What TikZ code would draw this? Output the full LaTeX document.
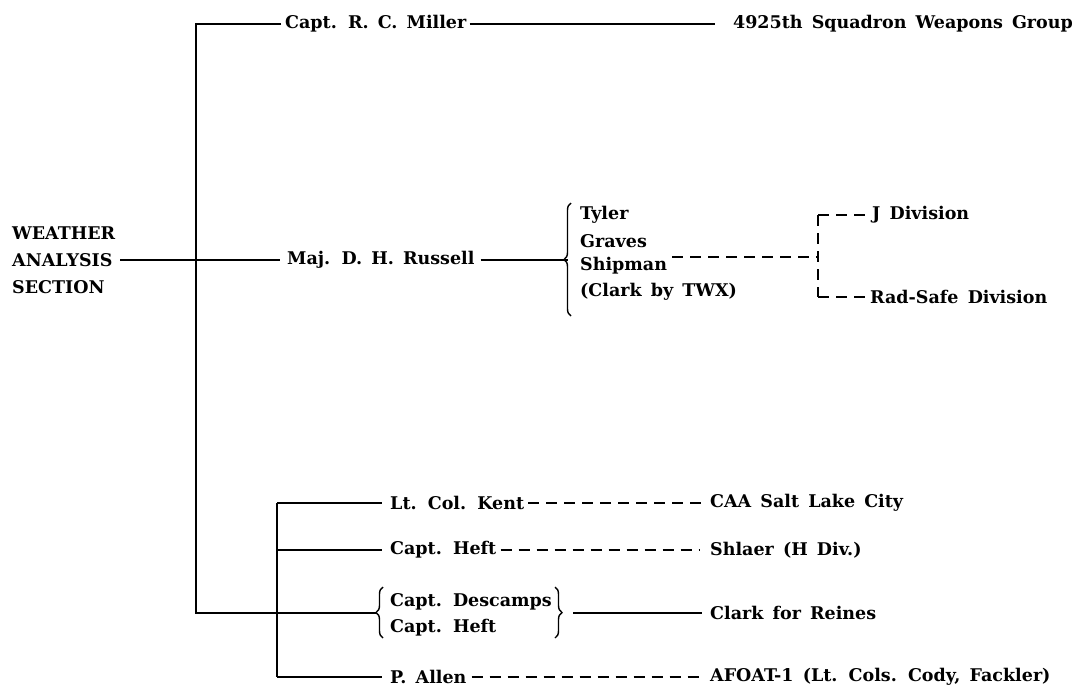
\documentclass[tikz,border=0pt]{standalone}
\usepackage{fontspec}
\setmainfont{DejaVu Serif}[WordSpace=1.5]
\usetikzlibrary{decorations.pathreplacing}
\begin{document}
\begin{tikzpicture}[x=1pt,y=-1pt,
  lbl/.style={anchor=west, inner sep=0pt, font=\bfseries\fontsize{17.5}{27}\selectfont},
  ln/.style={line width=1.8pt},
  dsh/.style={line width=1.8pt, dash pattern=on 11pt off 7pt},
  brc/.style={line width=1.4pt, decorate, decoration={brace, amplitude=7pt, aspect=0.5}}]
\useasboundingbox (0,0) rectangle (1080,686);
% nodes
\node[lbl, align=left] (was) at (12,260) {WEATHER\\ANALYSIS\\SECTION};
\node[lbl] (miller) at (285,24) {Capt. R. C. Miller};
\node[lbl, anchor=east] (sqn) at (1073,24) {4925th Squadron Weapons Group};
\node[lbl] (russell) at (287,260) {Maj. D. H. Russell};
\node[lbl] (tyler) at (580,215) {Tyler};
\node[lbl] (graves) at (580,241) {Graves};
\node[lbl] (shipman) at (580,266) {Shipman};
\node[lbl] (clarktwx) at (580,292) {(Clark by TWX)};
\node[lbl] (jdiv) at (872,215) {J Division};
\node[lbl] (rad) at (870,297) {Rad-Safe Division};
\node[lbl] (kent) at (390,503) {Lt. Col. Kent};
\node[lbl] (caa) at (710,503) {CAA Salt Lake City};
\node[lbl] (heft) at (390,550) {Capt. Heft};
\node[lbl] (shlaer) at (710,550) {Shlaer (H Div.)};
\node[lbl] (descamps) at (390,602) {Capt. Descamps};
\node[lbl] (hefttwo) at (390,628) {Capt. Heft};
\node[lbl] (reines) at (710,613) {Clark for Reines};
\node[lbl] (allen) at (390,677) {P. Allen};
\node[lbl] (afoat) at (710,677) {AFOAT-1 (Lt. Cols. Cody, Fackler)};
% coordinates
\coordinate (ttop) at (196,24);
\coordinate (tbot) at (196,613);
\coordinate (rbrace) at (568,260);
\coordinate (gstart) at (672,257);
\coordinate (dj) at (818,257);
\coordinate (djtop) at (818,215);
\coordinate (djbot) at (818,297);
\coordinate (sbtop) at (277,503);
\coordinate (sbheft) at (277,550);
\coordinate (sbbot) at (277,677);
\coordinate (dbrace) at (376,613);
\coordinate (rbr) at (573,613);
% trunk
\draw[ln] (miller.west) ++(-4,0) -- (ttop) -- (tbot) -- (dbrace);
\draw[ln] ([xshift=5pt]was.east) -- ([xshift=-7pt]russell.west);
% Miller row
\draw[ln] ([xshift=3pt]miller.east) -- ([xshift=-18pt]sqn.west);
% Russell row
\draw[ln] ([xshift=6pt]russell.east) -- (rbrace);
\draw[brc] (571,316) -- (571,203);
\draw[dsh] (gstart) -- (dj);
\draw[dsh] (djtop) -- (djbot);
\draw[dsh] (djtop) -- ([xshift=-5pt]jdiv.west);
\draw[dsh] (djbot) -- ([xshift=-3pt]rad.west);
% lower group
\draw[ln] (sbtop) -- (sbbot);
\draw[ln] (sbtop) -- ([xshift=-8pt]kent.west);
\draw[ln] (sbheft) -- ([xshift=-8pt]heft.west);
\draw[ln] (sbbot) -- ([xshift=-8pt]allen.west);
\draw[dsh] ([xshift=4pt]kent.east) -- ([xshift=-4pt]caa.west);
\draw[dsh] ([xshift=4pt]heft.east) -- ([xshift=-10pt]shlaer.west);
\draw[dsh] ([xshift=5pt]allen.east) -- ([xshift=-6pt]afoat.west);
\draw[brc] (383,638) -- (383,587);
\draw[brc] (555,587) -- (555,638);
\draw[ln] (rbr) -- ([xshift=-8pt]reines.west);
\end{tikzpicture}
\end{document}
